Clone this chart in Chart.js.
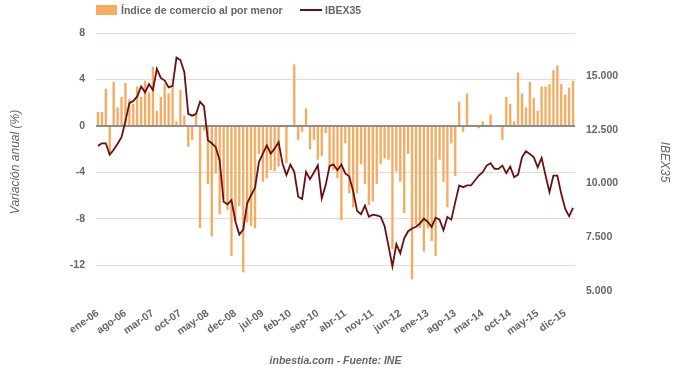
<!DOCTYPE html>
<html lang="es">
<head>
<meta charset="utf-8">
<title>Comercio al por menor e IBEX35</title>
<script src="https://cdn.jsdelivr.net/npm/chart.js@4.4.0/dist/chart.umd.min.js"></script>
<style>
  body { margin: 0; background: #fff; }
  #contenedor { position: relative; width: 680px; height: 375px; font-family: "Liberation Sans", Arial, sans-serif; color: #666; }
  #grafico { position: absolute; left: 0; top: 0; }
  .caja { position: absolute; left: 96px; top: 5px; width: 21px; height: 10px; background: #f5ab62; }
  .linea { position: absolute; left: 300px; top: 9px; width: 22px; height: 2px; background: #6b1010; }
  .texto { position: absolute; top: 4px; font-size: 10.5px; font-weight: bold; line-height: 12px; white-space: nowrap; }
  #fuente { position: absolute; left: 0; width: 671px; top: 354px; text-align: center; font-size: 10.5px; font-weight: bold; font-style: italic; }
</style>
</head>
<body>
<div id="contenedor">
  <canvas id="grafico" width="680" height="375"></canvas>
  <div class="caja"></div>
  <div class="texto" style="left:121px">Índice de comercio al por menor</div>
  <div class="linea"></div>
  <div class="texto" style="left:325px">IBEX35</div>
  <div id="fuente">inbestia.com - Fuente: INE</div>
</div>
<script>
// meses de ene-06 a feb-16
const meses = ["ene", "feb", "mar", "abr", "may", "jun", "jul", "ago", "sep", "oct", "nov", "dic"];
const años = ["06", "07", "08", "09", "10", "11", "12", "13", "14", "15", "16"];

// variacion anual del indice de comercio al por menor (%)
const comercio = [
  1.2, 1.2, 3.2, -2.4, 3.8, 1.6, 2.5, 3.7, 2.3, 1.9, 3.4, 2.5,
  3.9, 2.9, 5.1, 1.3, 2.5, 3.6, 2.8, 3.5, 0.4, 3.1, 0.9, -1.8,
  -1.2, 1.0, -8.8, -0.4, -5.0, -9.5, -4.1, -7.6, -6.3, -7.2, -11.2, -8.2,
  -6.9, -12.6, -8.3, -8.6, -8.8, -2.4, -4.8, -4.5, -3.8, -3.9, -3.5, -0.1,
  -3.2, 0.1, 5.3, -1.2, -0.5, 1.5, -2.0, -1.2, -2.9, -2.6, -0.6, -3.6,
  -3.8, -4.5, -8.1, -1.5, -5.8, -7.0, -5.8, -3.3, -5.0, -6.8, -6.5, -5.0,
  -3.3, -2.8, -2.9, -10.6, -3.9, -4.8, -7.5, -2.4, -13.2, -8.5, -8.8, -10.8,
  -8.8, -9.9, -11.2, -2.9, -4.8, -7.0, -1.5, -4.3, 2.1, -0.5, 2.8, 0.1,
  0.1, -0.2, 0.4, 0.1, 1.0, 0.05, -0.1, -1.2, 2.5, 1.9, 0.4, 4.6,
  2.8, 1.6, 3.8, 2.4, 1.3, 3.4, 3.4, 3.6, 4.8, 5.2, 3.6, 2.7,
  3.3, 3.9
];

// IBEX35 (puntos)
const ibex = [
  11750, 11870, 11870, 11340, 11570, 11850, 12150, 12900, 13740, 13840, 14050, 14510,
  14240, 14620, 14350, 15330, 14910, 14790, 14470, 14545, 15860, 15740, 15180, 13235,
  13155, 13240, 13800, 13600, 12010, 11870, 11690, 11075, 9150, 9030, 9225, 8245,
  7625, 7855, 9080, 9455, 9800, 11000, 11390, 11775, 11390, 11620, 11930, 10930,
  10390, 10880, 10540, 9385, 9275, 10540, 10200, 10510, 10850, 9305, 9925, 10820,
  10880, 10620, 10880, 10470, 10330, 9640, 8730, 8570, 8970, 8450, 8550, 8520,
  8460, 8020, 7100, 6140, 7180, 6760, 7450, 7780, 7910, 7990, 8140, 8365,
  8210, 7980, 8410, 8320, 7825, 8445, 8320, 9135, 9910, 9830, 9910, 9910,
  10140, 10370, 10525, 10835, 10940, 10680, 10680, 10835, 10480, 10790, 10295, 10415,
  11220, 11495, 11375, 11220, 10755, 11190, 10370, 9600, 10370, 10370, 9520, 8830,
  8475, 8870
];

const ticksIzq = [-12, -8, -4, 0, 4, 8];
const ticksDer = [5000, 7500, 10000, 12500, 15000];

var etiquetas = [];
for (var i = 0; i < comercio.length; i++) {
  etiquetas.push(meses[i % 12] + "-" + años[Math.floor(i / 12)]);
}
etiquetas[35] = "dec-08"; // asi aparece en el original

function miles (v) {
  return String(v).replace(/\B(?=(\d{3})+(?!\d))/g, ".");
}

const fuenteTicks = { family: "'Liberation Sans', Arial, sans-serif", size: 10.5, weight: "bold" };
const fuenteTitulo = { family: "'Liberation Sans', Arial, sans-serif", size: 12, style: "italic" };

var config = {
  type: "bar",
  data: {
    labels: etiquetas,
    datasets: [{
      type: "line",
      label: "IBEX35",
      data: ibex,
      yAxisID: "y2",
      borderColor: "#6b1010",
      borderWidth: 1.8,
      pointRadius: 0,
      tension: 0,
      order: 1
    }, {
      type: "bar",
      label: "Índice de comercio al por menor",
      data: comercio,
      yAxisID: "y",
      backgroundColor: "#f5ab62",
      categoryPercentage: 1,
      barPercentage: 0.6,
      order: 2
    }]
  },
  options: {
    responsive: false,
    animation: false,
    layout: { padding: { top: 33, left: 0, right: 0, bottom: 0 } },
    plugins: { legend: { display: false }, tooltip: { enabled: false } },
    scales: {
      x: {
        grid: { display: false, drawTicks: false },
        border: { display: false },
        ticks: {
          autoSkip: false, minRotation: 35, maxRotation: 35, padding: 16,
          color: "#666", font: fuenteTicks,
          callback: function (v, i) { return i % 7 === 0 ? this.getLabelForValue(v) : ""; }
        },
        afterFit: function (s) { s.height = 84; }
      },
      y: {
        position: "left", min: -14.2, max: 8,
        afterBuildTicks: function (s) { s.ticks = ticksIzq.map(function (v) { return { value: v }; }); },
        afterFit: function (s) { s.width = 96; },
        grid: {
          drawTicks: false,
          color: function (c) { return c.tick && c.tick.value === 0 ? "#8c8c8c" : "#f7d2d2"; },
          lineWidth: function (c) { return c.tick && c.tick.value === 0 ? 2 : 1; }
        },
        border: { display: false },
        ticks: { padding: 11, color: "#666", font: fuenteTicks },
        title: { display: true, text: "Variación anual (%)", color: "#666", font: fuenteTitulo, padding: { top: 8, bottom: 0 } }
      },
      y2: {
        position: "right", min: 5000, max: 17000,
        afterBuildTicks: function (s) { s.ticks = ticksDer.map(function (v) { return { value: v }; }); },
        afterFit: function (s) { s.width = 105; },
        grid: { display: false, drawTicks: false },
        border: { display: false },
        ticks: { padding: 11, color: "#666", font: fuenteTicks, callback: function (v) { return miles(v); } },
        title: { display: true, text: "IBEX35", color: "#666", font: fuenteTitulo, padding: { top: 8, bottom: 0 } }
      }
    }
  }
};

var grafico = new Chart(document.getElementById("grafico").getContext("2d"), config);
</script>
</body>
</html>
